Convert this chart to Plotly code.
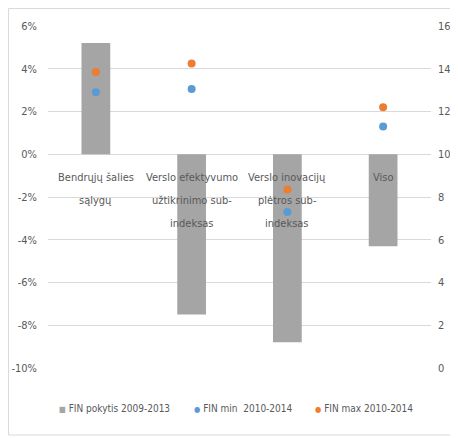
import plotly.graph_objects as go

categories = [
    "Bendrųjų šalies<br>sąlygų",
    "Verslo efektyvumo<br>užtikrinimo sub-<br>indeksas",
    "Verslo inovacijų<br>plėtros sub-<br>indeksas",
    "Viso",
]
change_2009_2013 = [0.052, -0.075, -0.088, -0.043]
fin_min_2010_2014 = [12.9, 13.05, 7.3, 11.3]
fin_max_2010_2014 = [13.85, 14.25, 8.35, 12.2]
left_ticks = [-0.10, -0.08, -0.06, -0.04, -0.02, 0.0, 0.02, 0.04, 0.06]
left_tick_labels = ["-10%", "-8%", "-6%", "-4%", "-2%", "0%", "2%", "4%", "6%"]
right_ticks = [0, 2, 4, 6, 8, 10, 12, 14, 16]
series_names = ["FIN pokytis 2009-2013", "FIN min  2010-2014", "FIN max 2010-2014"]

x = list(range(len(categories)))
FONT = "DejaVu Sans Condensed, Liberation Sans Narrow, Arial Narrow, sans-serif"
TXT = "#595959"
COLORS = ["#a5a5a5", "#5b9bd5", "#ed7d31"]
SYMBOLS = ["■", "●", "●"]

fig = go.Figure()
fig.add_trace(go.Bar(
    x=x, y=change_2009_2013, name=series_names[0],
    marker=dict(color=COLORS[0], line=dict(width=0)), width=0.3,
))
fig.add_trace(go.Scatter(
    x=x, y=fin_min_2010_2014, name=series_names[1], mode="markers",
    marker=dict(color=COLORS[1], size=8), yaxis="y2",
))
fig.add_trace(go.Scatter(
    x=x, y=fin_max_2010_2014, name=series_names[2], mode="markers",
    marker=dict(color=COLORS[2], size=8), yaxis="y2",
))

for xi, lab in zip(x, categories):
    for k, line in enumerate(lab.split("<br>")):
        fig.add_annotation(
            x=xi, y=0, xref="x", yref="y", text=line, showarrow=False,
            yanchor="middle", yshift=-23 - 23 * k,
            font=dict(family=FONT, size=11, color=TXT),
        )

# legend row (symbol + name), positioned as in the original's bottom legend
legend_x_px = [49, 184, 305]
for px, name, col, sym in zip(legend_x_px, series_names, COLORS, SYMBOLS):
    fig.add_annotation(
        x=(px - 40) / 383, y=-0.117, xref="paper", yref="paper",
        xanchor="left", yanchor="middle", showarrow=False,
        text=f'<span style="color:{col};font-size:8px">{sym}</span> {name}',
        font=dict(family=FONT, size=10, color=TXT),
    )

fig.add_shape(type="rect", xref="paper", yref="paper",
              x0=-0.103, x1=1.063, y0=-0.196, y1=1.051,
              line=dict(color="#d9d9d9", width=1), layer="below")

fig.update_layout(
    width=450, height=430,
    margin=dict(l=40, r=27, t=18, b=70, autoexpand=False),
    paper_bgcolor="white", plot_bgcolor="white",
    showlegend=False,
    xaxis=dict(range=[-0.5, 3.5], showticklabels=False, showgrid=False,
               zeroline=False, showline=False, ticks=""),
    yaxis=dict(range=[-0.10, 0.06], tickvals=left_ticks, ticktext=left_tick_labels,
               showgrid=True, gridcolor="#d9d9d9", gridwidth=1,
               zeroline=True, zerolinecolor="#d9d9d9", zerolinewidth=1,
               showline=False, ticks="", ticklabelstandoff=10,
               tickfont=dict(family=FONT, size=11, color=TXT)),
    yaxis2=dict(range=[0, 16], tickvals=right_ticks, overlaying="y", side="right",
                showgrid=False, zeroline=False, showline=False, ticks="",
                ticklabelstandoff=6,
                tickfont=dict(family=FONT, size=11, color=TXT)),
)

fig.write_html("out.html")
